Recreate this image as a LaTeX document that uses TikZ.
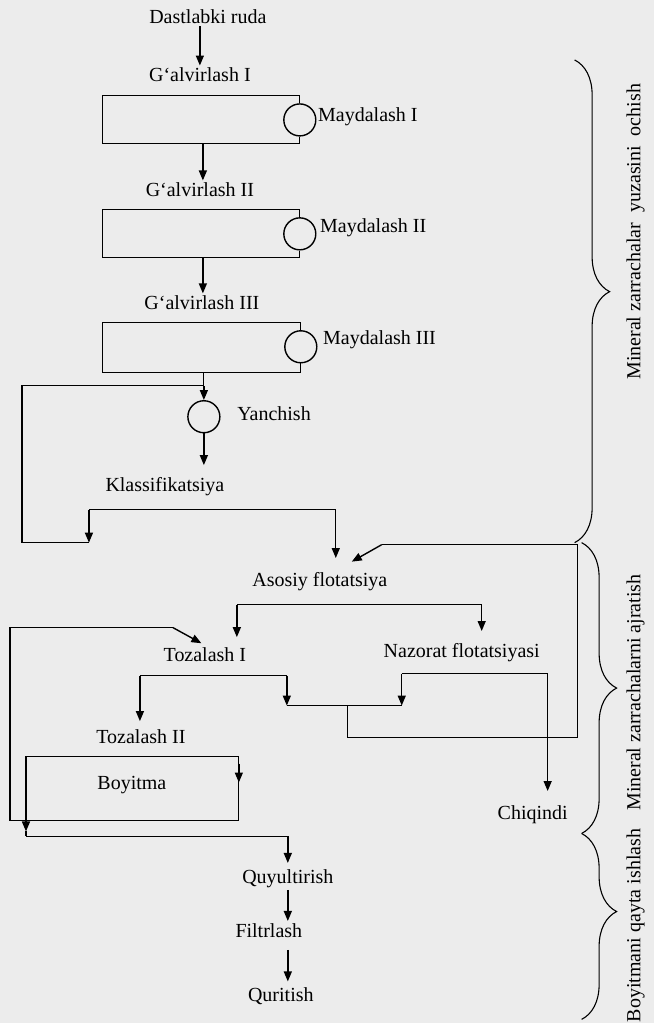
\documentclass[tikz,border=0pt]{standalone}
\usepackage{fontspec}
\setmainfont{Liberation Serif}
\usetikzlibrary{arrows.meta,calc,positioning,decorations.pathreplacing}
\definecolor{qogoz}{RGB}{236,236,236}
\tikzset{
  yozuv/.style={inner sep=1pt,font=\fontsize{10}{12}\selectfont},
  tegirmon/.style={circle,draw,line width=0.7pt,minimum size=16pt,inner sep=0pt},
  oqim/.style={-{Triangle[length=5pt,width=4pt]},line width=0.7pt},
  quvur/.style={line width=0.55pt},
  qavs/.style={decorate,decoration={brace,amplitude=17.5pt,aspect=#1},line width=0.55pt}
}
\begin{document}
\begin{tikzpicture}[x=0.5pt,y=-0.5pt]
\fill[qogoz] (0,0) rectangle (654,1024);
% maydalash
\node[yozuv] (ruda) at (208,17) {Dastlabki ruda};
\node[yozuv] (g1) at (200,75) {G‘alvirlash I};
\node[tegirmon] (m1) at (300,120) {};
\node[yozuv,anchor=west] (m1t) at (316,117) {Maydalash I};
\node[yozuv] (g2) at (200,190) {G‘alvirlash II};
\node[tegirmon] (m2) at (300,234) {};
\node[yozuv,anchor=west] (m2t) at (318,228) {Maydalash II};
\node[yozuv] (g3) at (202,303) {G‘alvirlash III};
\node[tegirmon] (m3) at (301,347) {};
\node[yozuv,anchor=west] (m3t) at (321,340) {Maydalash III};
\draw[quvur] (m1.north) -- ++(0,-8) -| (103,144) -| (m1.south);
\draw[quvur] (m2.north) -- ++(0,-8) -| (103,258) -| (m2.south);
\draw[quvur] (m3.north) -- ++(0,-8) -| (103,373) -| (m3.south);
\coordinate (b1) at (203,144);
\coordinate (b2) at (203,258);
\coordinate (b3) at (204,373);
\draw[oqim] (ruda.south -| g1.north) -- (g1.north);
\draw[oqim] (b1) -- (b1 |- g2.north);
\draw[oqim] (b2) -- (b2 |- g3.north);
% yanchish va klassifikatsiya
\node[tegirmon] (yan) at (204,417) {};
\node[yozuv,anchor=west] (yant) at (235,414) {Yanchish};
\node[yozuv] (klass) at (165,487) {Klassifikatsiya};
\coordinate (j3) at (204,386);
\coordinate (kl) at (89,510);
\coordinate (kr) at (336,510);
\coordinate (sq) at (89,543);
\draw[quvur] (b3) -- (j3);
\draw[oqim] (j3) -- (yan.north);
\draw[oqim,shorten >=5pt] (yan.south) -- (yan.south |- klass.north);
\draw[quvur] (kl) -- (kr);
\draw[oqim] (kl) -- (sq);
\draw[quvur] (sq) -| (22,386) -- (j3);
% flotatsiya
\node[yozuv] (asos) at (320,582) {Asosiy flotatsiya};
\node[yozuv] (toz1) at (205,655) {Tozalash I};
\node[yozuv] (naz) at (462,653) {Nazorat flotatsiyasi};
\node[yozuv] (toz2) at (141,737) {Tozalash II};
\node[yozuv] (boy) at (132,786) {Boyitma};
\node[yozuv] (chiq) at (533,815) {Chiqindi};
\coordinate (qa) at (382,545);
\coordinate (qat) at (352,562);
\coordinate (al) at (237,605);
\coordinate (ar) at (482,605);
\coordinate (tl) at (140,676);
\coordinate (tr) at (287,676);
\coordinate (nl) at (402,674);
\coordinate (nr) at (548,674);
\coordinate (oq) at (348,706);
\draw[oqim,shorten >=6pt] (kr) -- (kr |- asos.north);
\draw[quvur] (oq) -- (348,738) -| (578,545) -- (qa);
\draw[oqim] (qa) -- (qat);
\draw[quvur] (al) -- (ar);
\draw[oqim,shorten >=4pt] (al) -- (al |- toz1.north);
\draw[oqim,shorten >=5pt] (ar) -- (ar |- naz.north);
\draw[quvur] (tl) -- (tr);
\draw[oqim,shorten >=3pt] (tl) -- (tl |- toz2.north);
\draw[oqim] (tr) -- (tr |- oq);
\draw[quvur] (nl) -- (nr);
\draw[oqim] (nl) -- (nl |- oq);
\draw[quvur] (tr |- oq) -- (nl |- oq);
\draw[oqim,shorten >=6pt] (nr) -- (nr |- chiq.north);
% boyitma
\coordinate (bx) at (26,821);
\coordinate (by) at (26,837);
\draw[quvur] (26,757) rectangle (239,821);
\draw[oqim] (239,764) -- (239,783);
\draw[quvur] (bx) -- (10,821) |- (173,628);
\draw[oqim,shorten >=2pt] (173,628) -- (toz1.north);
\draw[oqim] (bx) -- (26,832);
\draw[quvur] (26,832) -- (by);
% qayta ishlash
\node[yozuv] (quyu) at (288,879) {Quyultirish};
\node[yozuv] (filt) at (269,931) {Filtrlash};
\node[yozuv] (quri) at (281,997) {Quritish};
\draw[quvur] (by) -- (by -| quyu);
\draw[oqim,shorten >=2pt] (by -| quyu) -- (quyu.north);
\draw[oqim] (quyu.south) -- (quyu.south |- filt.north);
\draw[oqim,shorten <=5pt,shorten >=2pt] (filt.south -| quyu) -- (quri.north -| quyu);
% qavslar
\draw[qavs=0.48] (575,60) -- (575,543);
\draw[qavs=0.5] (582,543) -- (582,834);
\draw[qavs=0.42] (582,834) -- (582,1020);
\node[yozuv,rotate=90] (bos1) at (636,232) {Mineral zarrachalar~~yuzasini~~ochish};
\node[yozuv,rotate=90] (bos2) at (636,693) {Mineral zarrachalarni ajratish};
\node[yozuv,rotate=90] (bos3) at (636,926) {Boyitmani qayta ishlash};
\end{tikzpicture}
\end{document}
